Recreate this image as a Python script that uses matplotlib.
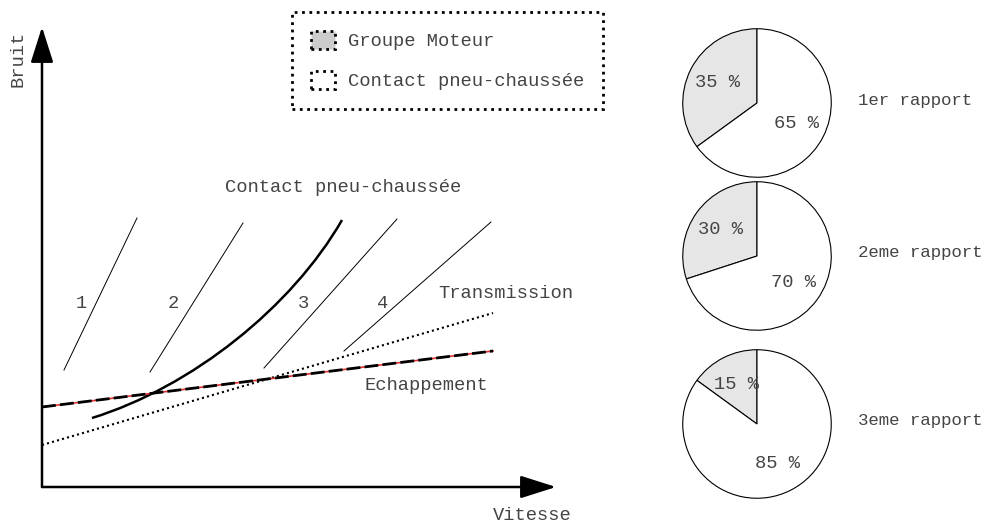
import numpy as np
import matplotlib
matplotlib.use('Agg')
import matplotlib.pyplot as plt
from matplotlib.patches import Patch, PathPatch
from matplotlib.path import Path

plt.rcParams['font.family'] = ['Liberation Mono', 'DejaVu Sans Mono']

# diagramme gauche (origine = coin des axes, unites ~ pixels)
rapport_x = [[22, 95], [108, 201], [222, 355], [302, 449]]
rapport_y = [[117, 269], [115, 264], [119, 268], [136, 265]]
rapport_lbl = ['1', '2', '3', '4']
rapport_lbl_x = [39, 131, 261, 341]
rapport_lbl_y = [184, 184, 184, 184]

# courbe groupe moteur (points de controle bezier)
moteur_pts = [(50, 69), (150, 100), (250, 180), (300, 267)]

trans_x = [0, 451]
trans_y = [42, 174]
echap_x = [0, 451]
echap_y = [80, 136]

# camemberts
parts_moteur = [35, 30, 15]
parts_contact = [65, 70, 85]
rapports = ['1er rapport', '2eme rapport', '3eme rapport']

gris = '#444444'
fs = 13.5

fig = plt.figure(figsize=(9.85, 5.23), dpi=100)
ax = fig.add_axes([0, 0, 1, 1])
ax.set_xlim(-42, 943)
ax.set_ylim(-36, 487)
ax.axis('off')

# axes fleches
ax.annotate('', xy=(0, 460), xytext=(0, 0),
            arrowprops=dict(arrowstyle='-|>,head_length=2.2,head_width=0.7',
                            color='black', lw=1.8, mutation_scale=10, shrinkA=0, shrinkB=0))
ax.annotate('', xy=(514, 0), xytext=(0, 0),
            arrowprops=dict(arrowstyle='-|>,head_length=2.2,head_width=0.7',
                            color='black', lw=1.8, mutation_scale=10, shrinkA=0, shrinkB=0))
ax.text(-24, 428, 'Bruit', rotation=90, ha='center', va='center', fontsize=fs, color=gris)
ax.text(451, -28, 'Vitesse', ha='left', va='center', fontsize=fs, color=gris)

for xs, ys in zip(rapport_x, rapport_y):
    ax.plot(xs, ys, color='black', lw=0.7)
for t, x, y in zip(rapport_lbl, rapport_lbl_x, rapport_lbl_y):
    ax.text(x, y, t, ha='center', va='center', fontsize=fs, color=gris)

path = Path(moteur_pts, [Path.MOVETO, Path.CURVE4, Path.CURVE4, Path.CURVE4])
ax.add_patch(PathPatch(path, facecolor='none', edgecolor='black', lw=1.8))

ax.plot(trans_x, trans_y, color='black', lw=1.5, ls=(0, (1, 1.5)))
ax.plot(echap_x, echap_y, color='#e03030', lw=1.2)
ax.plot(echap_x, echap_y, color='black', lw=2, ls=(0, (5, 1.5)))

ax.text(301, 299, 'Contact pneu-chaussée', ha='center', va='center', fontsize=fs, color=gris)
ax.text(396, 194, 'Transmission', ha='left', va='center', fontsize=fs, color=gris)
ax.text(323, 101, 'Echappement', ha='left', va='center', fontsize=fs, color=gris)

# legende
handles = [Patch(facecolor='#cccccc', edgecolor='black', lw=2, ls=':', label='Groupe Moteur'),
           Patch(facecolor='white', edgecolor='black', lw=2, ls=':', label='Contact pneu-chaussée')]
leg = ax.legend(handles=handles, loc='upper left', bbox_to_anchor=(292 / 985, 1 - 12 / 523),
                bbox_transform=fig.transFigure, fontsize=fs, fancybox=False, framealpha=1,
                handlelength=1.3, handleheight=1.1, labelspacing=1.1, borderpad=1.0,
                handletextpad=0.7, borderaxespad=0)
leg.get_frame().set_edgecolor('black')
leg.get_frame().set_linestyle(':')
leg.get_frame().set_linewidth(2)
for t in leg.get_texts():
    t.set_color(gris)

# camemberts
centres_y = [103, 256, 424]
for i in range(3):
    cy = centres_y[i]
    pax = fig.add_axes([(757 - 75) / 985, 1 - (cy + 75) / 523, 150 / 985, 150 / 523])
    _, _, autotexts = pax.pie([parts_moteur[i], parts_contact[i]], colors=['#e6e6e6', 'white'],
                              startangle=90, autopct='%.0f %%', pctdistance=0.6,
                              wedgeprops=dict(edgecolor='black', lw=0.8),
                              textprops=dict(fontsize=fs, color=gris))
    pax.set_xlim(-1.01, 1.01)
    pax.set_ylim(-1.01, 1.01)
    pax.set_aspect('equal')
    fig.text(858 / 985, 1 - (cy - 3) / 523, rapports[i], ha='left', va='center',
             fontsize=12.5, color=gris)

fig.savefig('out.png', dpi=100)
